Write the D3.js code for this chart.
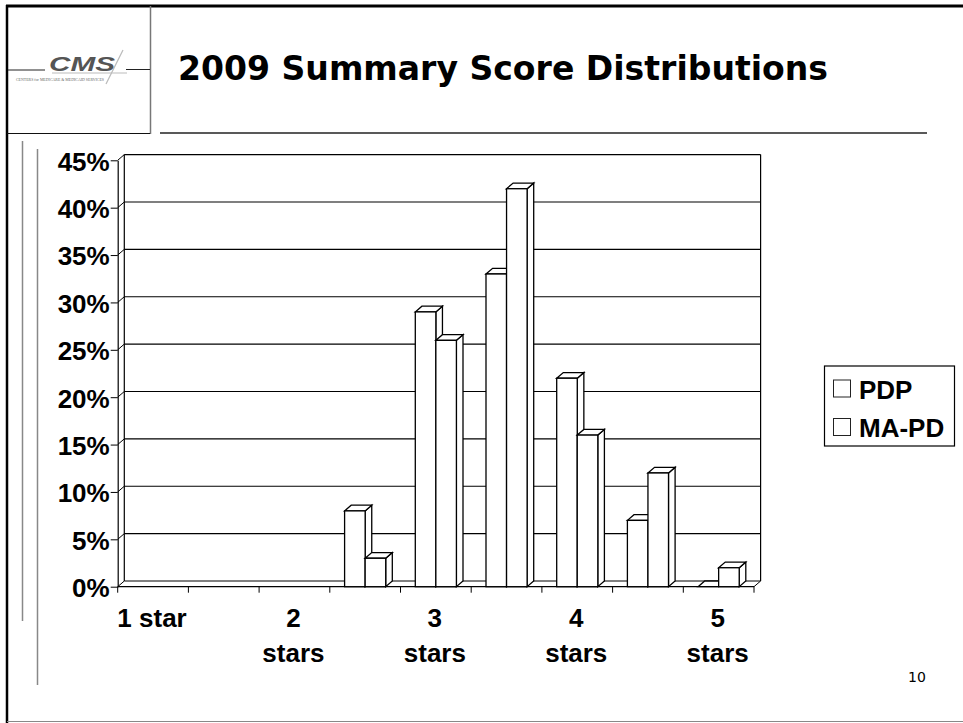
<!DOCTYPE html>
<html>
<head>
<meta charset="utf-8">
<script src="https://cdn.jsdelivr.net/npm/d3@7"></script>
<style>
  html, body { margin: 0; padding: 0; background: #fff; }
  svg { display: block; }
</style>
</head>
<body>
<svg id="slide" width="963" height="723"></svg>
<script>
// Star-rating buckets (half-star steps) and the share of plans in each;
// null marks a bucket with no plans at all (no column drawn)
const categories = ["1", "1.5", "2", "2.5", "3", "3.5", "4", "4.5", "5"];
const categoryLabels = [["1 star"], [], ["2", "stars"], [], ["3", "stars"], [], ["4", "stars"], [], ["5", "stars"]];
const seriesNames = ["PDP", "MA-PD"];
const pdpValues = [null, null, null, 0.08, 0.29, 0.33, 0.22, 0.07, 0];
const mapdValues = [null, null, null, 0.03, 0.26, 0.42, 0.16, 0.12, 0.02];
const yTicks = [0, 0.05, 0.10, 0.15, 0.20, 0.25, 0.30, 0.35, 0.40, 0.45];
const titleText = "2009 Summary Score Distributions";
const pageNumber = "10";

const svg = d3.select("#slide");
const labelFont = "'Liberation Sans', Arial, sans-serif";

// ---- slide frame and header ----
const frame = svg.append("g").attr("fill", "none");
frame.append("line").attr("x1", 6).attr("x2", 963).attr("y1", 6).attr("y2", 6)
  .attr("stroke", "#000").attr("stroke-width", 3);
frame.append("line").attr("x1", 7).attr("x2", 7).attr("y1", 5).attr("y2", 723)
  .attr("stroke", "#000").attr("stroke-width", 2.5);
frame.append("line").attr("x1", 7).attr("x2", 963).attr("y1", 721.5).attr("y2", 721.5)
  .attr("stroke", "#888").attr("stroke-width", 1.2);
frame.append("line").attr("x1", 150.5).attr("x2", 150.5).attr("y1", 6).attr("y2", 134)
  .attr("stroke", "#777").attr("stroke-width", 1.5);
frame.append("line").attr("x1", 7).attr("x2", 150).attr("y1", 133.5).attr("y2", 133.5)
  .attr("stroke", "#111").attr("stroke-width", 1);
frame.append("line").attr("x1", 160).attr("x2", 927).attr("y1", 133).attr("y2", 133)
  .attr("stroke", "#222").attr("stroke-width", 1.5);
// decorative rules on the left margin
frame.append("line").attr("x1", 22.5).attr("x2", 22.5).attr("y1", 141).attr("y2", 621)
  .attr("stroke", "#888").attr("stroke-width", 1.5);
frame.append("line").attr("x1", 37.5).attr("x2", 37.5).attr("y1", 149).attr("y2", 685)
  .attr("stroke", "#888").attr("stroke-width", 1.5);

// CMS logo
const logo = svg.append("g");
logo.append("line").attr("x1", 8).attr("x2", 45).attr("y1", 70).attr("y2", 70)
  .attr("stroke", "#222").attr("stroke-width", 1);
logo.append("line").attr("x1", 126).attr("x2", 150).attr("y1", 69.5).attr("y2", 69.5)
  .attr("stroke", "#222").attr("stroke-width", 1);
logo.append("line").attr("x1", 52).attr("x2", 127).attr("y1", 73).attr("y2", 73)
  .attr("stroke", "#bbb").attr("stroke-width", 1);
logo.append("line").attr("x1", 123).attr("x2", 106).attr("y1", 50).attr("y2", 84)
  .attr("stroke", "#bbb").attr("stroke-width", 1.2);
logo.append("text").attr("x", 49).attr("y", 71)
  .attr("font-family", labelFont).attr("font-weight", "bold").attr("font-style", "italic")
  .attr("font-size", 21).attr("fill", "#555")
  .attr("textLength", 66).attr("lengthAdjust", "spacingAndGlyphs")
  .text("CMS");
logo.append("text").attr("x", 16).attr("y", 81)
  .attr("font-family", "'Liberation Serif', serif").attr("font-size", 4.5).attr("fill", "#666")
  .attr("textLength", 88).attr("lengthAdjust", "spacingAndGlyphs")
  .text("CENTERS for MEDICARE & MEDICAID SERVICES");

// title
svg.append("text").attr("x", 178).attr("y", 80)
  .attr("font-family", "'DejaVu Sans', Verdana, sans-serif").attr("font-weight", "bold")
  .attr("font-size", 33).attr("fill", "#000")
  .attr("textLength", 650).attr("lengthAdjust", "spacingAndGlyphs")
  .text(titleText);

// page number
svg.append("text").attr("x", 908).attr("y", 682)
  .attr("font-family", "'DejaVu Sans', Tahoma, sans-serif").attr("font-size", 14).attr("fill", "#000")
  .text(pageNumber);

// ---- 3D column chart ----
const X0 = 117.7, X1 = 754, Y0 = 586.7, YT = 160.3;
const DX = 6.6, DY = -5.7; // depth offset of the back plane

const x = d3.scaleBand().domain(categories).range([X0, X1]).padding(0);
const inner = d3.scaleBand().domain(seriesNames).range([0, x.bandwidth()])
  .paddingInner(0).paddingOuter(0.72);
const y = d3.scaleLinear().domain([0, 0.45]).range([Y0, YT]);

const chart = svg.append("g").attr("stroke", "#000").attr("fill", "none");

// back wall: gridlines and outline
chart.append("g").attr("stroke-width", 1.2)
  .selectAll("line").data(yTicks).join("line")
  .attr("x1", X0 + DX).attr("x2", X1 + DX)
  .attr("y1", d => y(d) + DY).attr("y2", d => y(d) + DY);
chart.append("line").attr("x1", X1 + DX).attr("x2", X1 + DX)
  .attr("y1", y(0.45) + DY).attr("y2", y(0) + DY).attr("stroke-width", 1.2);
chart.append("line").attr("x1", X0 + DX).attr("x2", X0 + DX)
  .attr("y1", y(0.45) + DY).attr("y2", y(0) + DY).attr("stroke-width", 1.2);

// side wall: diagonal gridlines
chart.append("g").attr("stroke-width", 1)
  .selectAll("line").data(yTicks).join("line")
  .attr("x1", X0).attr("x2", X0 + DX)
  .attr("y1", d => y(d)).attr("y2", d => y(d) + DY);

// floor
chart.append("line").attr("x1", X0).attr("x2", X1).attr("y1", Y0).attr("y2", Y0).attr("stroke-width", 1.2);
chart.append("line").attr("x1", X1).attr("x2", X1 + DX).attr("y1", Y0).attr("y2", Y0 + DY).attr("stroke-width", 1);

// y axis
const yAxis = d3.axisLeft(y).tickValues(yTicks).tickFormat(d3.format(".0%"))
  .tickSize(7).tickSizeOuter(0).tickPadding(1);
const yg = svg.append("g").attr("transform", `translate(${X0},0)`).call(yAxis);
yg.select(".domain").attr("stroke", "#000").attr("stroke-width", 1.2);
yg.selectAll(".tick line").attr("stroke", "#000").attr("stroke-width", 1);
yg.selectAll(".tick text")
  .attr("font-family", labelFont).attr("font-weight", "bold").attr("font-size", 26)
  .attr("fill", "#000").attr("dy", "0.38em");

// x axis ticks at bucket boundaries
const edges = categories.map(c => x(c)).concat([X1]);
chart.append("g").attr("stroke-width", 1)
  .selectAll("line").data(edges).join("line")
  .attr("x1", d => d).attr("x2", d => d).attr("y1", Y0).attr("y2", Y0 + 6);

// x labels
const xl = svg.append("g").attr("font-family", labelFont).attr("font-weight", "bold")
  .attr("font-size", 26).attr("fill", "#000").attr("text-anchor", "middle");
categories.forEach((c, i) => {
  const lines = categoryLabels[i];
  if (!lines.length) return;
  const cx = x(c) + x.bandwidth() / 2 - 1;
  const t = xl.append("text").attr("x", cx).attr("y", Y0 + 40);
  lines.forEach((ln, j) => {
    t.append("tspan").attr("x", cx).attr("dy", j === 0 ? 0 : 35).text(ln);
  });
});

// bars: front face, top face, right side face
const bars = [];
categories.forEach((c, i) => {
  if (pdpValues[i] !== null) bars.push({ cat: c, s: "PDP", v: pdpValues[i] });
  if (mapdValues[i] !== null) bars.push({ cat: c, s: "MA-PD", v: mapdValues[i] });
});

const barG = svg.append("g").attr("stroke", "#000").attr("stroke-width", 1.3)
  .attr("stroke-linejoin", "miter").attr("fill", "#fff");
bars.forEach(b => {
  const bx = x(b.cat) + inner(b.s);
  const bw = inner.bandwidth();
  const top = y(b.v);
  const g = barG.append("g");
  // right side
  g.append("path").attr("d",
    `M${bx + bw},${top} L${bx + bw + DX},${top + DY} L${bx + bw + DX},${Y0 + DY} L${bx + bw},${Y0} Z`);
  // top
  g.append("path").attr("d",
    `M${bx},${top} L${bx + DX},${top + DY} L${bx + bw + DX},${top + DY} L${bx + bw},${top} Z`);
  // front
  g.append("rect").attr("x", bx).attr("y", top).attr("width", bw).attr("height", Y0 - top);
});

// legend
const lg = svg.append("g");
lg.append("rect").attr("x", 824.5).attr("y", 366).attr("width", 130).attr("height", 80)
  .attr("fill", "#fff").attr("stroke", "#000").attr("stroke-width", 1.2);
seriesNames.forEach((s, i) => {
  const yy = 380 + i * 38.5;
  lg.append("rect").attr("x", 833.5).attr("y", yy).attr("width", 17).attr("height", 17)
    .attr("fill", "#fff").attr("stroke", "#222").attr("stroke-width", 1);
  lg.append("text").attr("x", 859).attr("y", yy + 18.5)
    .attr("font-family", labelFont).attr("font-weight", "bold").attr("font-size", 26)
    .attr("fill", "#000").text(s);
});
</script>
</body>
</html>
